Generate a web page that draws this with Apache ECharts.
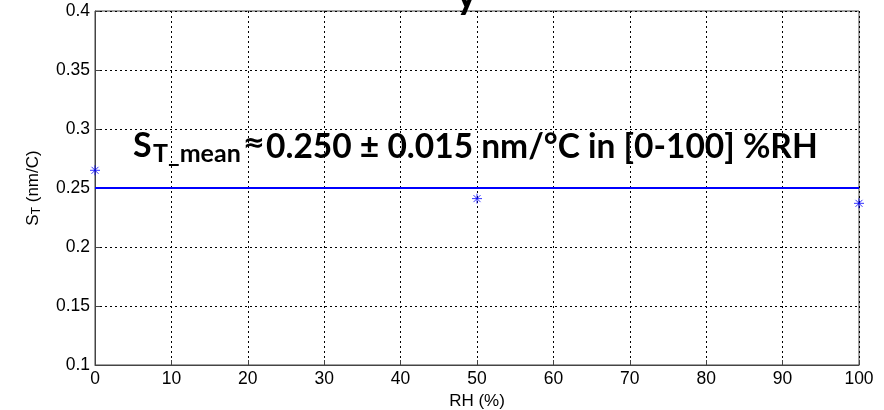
<!DOCTYPE html>
<html>
<head>
<meta charset="utf-8">
<script src="https://cdn.jsdelivr.net/npm/echarts@6/dist/echarts.min.js"></script>
<style>
  html, body { margin: 0; padding: 0; background: #fff; }
  #chart { width: 884px; height: 410px; }
</style>
</head>
<body>
<div id="chart"></div>
<script>
// measured points
var rhValues = [0, 50, 100];
var stValues = [0.265, 0.241, 0.237];
// mean fit line
var meanX = [0, 100];
var meanST = 0.25;

var xTicks = [0, 10, 20, 30, 40, 50, 60, 70, 80, 90, 100];
var yTicks = [0.1, 0.15, 0.2, 0.25, 0.3, 0.35, 0.4];

var myChart = echarts.init(document.getElementById('chart'));

var star = 'path://M0,-5L0,5M-5,0L5,0M-3.5,-3.5L3.5,3.5M-3.5,3.5L3.5,-3.5';
var axisFont = { fontFamily: 'Liberation Sans', fontSize: 17.5, color: '#000' };

var option = {
    animation: false,
    grid: {
        left: 95, right: 25, top: 11, bottom: 45,
        containLabel: false, outerBoundsMode: 'none',
        show: true, borderColor: '#444', borderWidth: 1
    },
    xAxis: {
        type: 'value', min: 0, max: 100, interval: 10,
        name: 'RH (%)', nameLocation: 'middle', nameGap: 26,
        nameTextStyle: { fontFamily: 'Liberation Sans', fontSize: 17, color: '#000' },
        axisLine: { lineStyle: { color: '#444' } },
        axisTick: { inside: true, length: 5, lineStyle: { color: '#444' } },
        axisLabel: Object.assign({ margin: 5 }, axisFont),
        splitLine: { lineStyle: { color: '#000', type: [2, 3], width: 1 } }
    },
    yAxis: {
        type: 'value', min: 0.1, max: 0.4, interval: 0.05,
        name: '{a|S}{b|T}{a| (nm/C)}', nameLocation: 'middle', nameGap: 52,
        nameTextStyle: {
            rich: {
                a: { fontFamily: 'Liberation Sans', fontSize: 17, color: '#000' },
                b: { fontFamily: 'Liberation Sans', fontSize: 12, color: '#000', padding: [8, 0, 0, 0] }
            }
        },
        axisLine: { lineStyle: { color: '#444' } },
        axisTick: { inside: true, length: 5, lineStyle: { color: '#444' } },
        axisLabel: Object.assign({ margin: 5, formatter: function (v) { return String(+v.toFixed(2)); } }, axisFont),
        splitLine: { lineStyle: { color: '#000', type: [2, 3], width: 1 } }
    },
    graphic: [
        { type: 'text', left: 456, top: -25, style: { text: 'y', font: 'bold 40px Lato', fill: '#000' } },
        { type: 'text', left: 133, top: 129, style: { text: 'S', font: 'bold 34px Lato', fill: '#000' } },
        { type: 'text', left: 153, top: 141, style: { text: 'T_mean', font: 'bold 25px Lato', fill: '#000' } },
        { type: 'text', left: 243, top: 131, style: { text: '\u2248', font: 'bold 26px "DejaVu Sans"', fill: '#000' } },
        { type: 'text', left: 266, top: 130, style: { text: '0.250 \u00b1 0.015 nm/\u00b0C in [0-100] %RH', font: 'bold 33.5px Lato', fill: '#000' } }
    ],
    series: [
        {
            type: 'line',
            data: meanX.map(function (x) { return [x, meanST]; }),
            symbol: 'none',
            lineStyle: { color: '#0000ff', width: 2 },
            z: 3
        },
        {
            type: 'scatter',
            data: rhValues.map(function (x, i) { return [x, stValues[i]]; }),
            symbol: star,
            symbolSize: 10,
            itemStyle: { color: 'rgba(0,0,0,0)', borderColor: '#0000ff', borderWidth: 1 },
            z: 4
        }
    ]
};

myChart.setOption(option);
</script>
</body>
</html>
